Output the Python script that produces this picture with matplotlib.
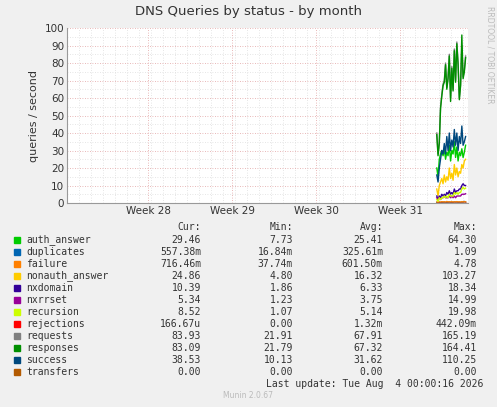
import numpy as np
import matplotlib.pyplot as plt

# days from the left edge of the graph; 24 samples at the end
days = np.linspace(30.8, 33.2, 24)

names = ["auth_answer", "duplicates", "failure", "nonauth_answer", "nxdomain", "nxrrset",
         "recursion", "rejections", "requests", "responses", "success", "transfers"]
colors = ["#00CC00", "#0066B3", "#FF8000", "#FFCC00", "#330099", "#990099",
          "#CCFF00", "#FF0000", "#808080", "#008F00", "#00487D", "#B35A00"]
series = {
    "auth_answer": [20, 15, 25, 28, 30, 27, 31, 25, 29, 27, 33, 24, 30, 28, 35, 26, 32, 24, 29, 27, 31, 26, 29, 33],
    "duplicates": [0.3, 0.2, 0.4, 0.3, 0.5, 0.4, 0.6, 0.3, 0.5, 0.4, 0.6, 0.4, 0.5, 0.3, 0.7, 0.5, 0.6, 0.4, 0.5, 0.4, 0.6, 0.5, 0.9, 0.56],
    "failure": [0.6, 0.4, 0.7, 0.5, 0.8, 0.6, 0.7, 0.5, 0.9, 0.6, 0.7, 0.6, 0.8, 0.5, 0.7, 0.6, 0.8, 0.6, 0.7, 0.5, 0.8, 0.6, 0.7, 0.7],
    "nonauth_answer": [8, 4, 10, 12, 14, 11, 16, 12, 15, 13, 20, 14, 17, 13, 22, 16, 20, 15, 18, 17, 22, 20, 24, 25],
    "nxdomain": [4, 2, 4, 3, 5, 4, 5, 4, 6, 5, 7, 5, 6, 5, 8, 6, 7, 7, 8, 8, 10, 11, 10, 10],
    "nxrrset": [3, 2, 3, 2, 3, 3, 4, 3, 3, 3, 4, 3, 4, 3, 4, 3, 4, 4, 4, 4, 5, 5, 5, 5.3],
    "recursion": [2, 1, 3, 2, 3, 3, 4, 3, 4, 3, 5, 4, 4, 4, 6, 5, 6, 5, 6, 6, 8, 9, 8, 8.5],
    "rejections": [0, 0, 0, 0, 0, 0, 0, 0, 0, 0, 0, 0, 0, 0, 0, 0, 0, 0, 0, 0, 0, 0, 0, 0],
    "requests": [40, 28, 35, 55, 62, 68, 70, 80, 66, 72, 85, 60, 78, 65, 88, 70, 92, 80, 60, 68, 90, 72, 76, 84],
    "responses": [39, 27, 34, 54, 61, 67, 69, 79, 65, 71, 84, 58, 77, 64, 87, 69, 91, 79, 59, 67, 96, 71, 75, 83],
    "success": [16, 12, 20, 25, 30, 28, 34, 28, 38, 30, 40, 30, 36, 32, 42, 33, 40, 30, 38, 34, 44, 33, 35, 38],
    "transfers": [0, 0, 0, 0, 0, 0, 0, 0, 0, 0, 0, 0, 0, 0, 0, 0, 0, 0, 0, 0, 0, 0, 0, 0],
}
cur = ["29.46", "557.38m", "716.46m", "24.86", "10.39", "5.34", "8.52", "166.67u", "83.93", "83.09", "38.53", "0.00"]
mins = ["7.73", "16.84m", "37.74m", "4.80", "1.86", "1.23", "1.07", "0.00", "21.91", "21.79", "10.13", "0.00"]
avgs = ["25.41", "325.61m", "601.50m", "16.32", "6.33", "3.75", "5.14", "1.32m", "67.91", "67.32", "31.62", "0.00"]
maxs = ["64.30", "1.09", "4.78", "103.27", "18.34", "14.99", "19.98", "442.09m", "165.19", "164.41", "110.25", "0.00"]
week_pos = [6.75, 13.75, 20.75, 27.75]
week_labels = ["Week 28", "Week 29", "Week 30", "Week 31"]

W, H = 497, 407
fig = plt.figure(figsize=(W / 100, H / 100), dpi=100, facecolor="#F0F0F0")
ax = fig.add_axes([67 / W, 1 - 203 / H, 401 / W, 175 / H], facecolor="white")
mono = "DejaVu Sans Mono"

for n, c in zip(names, colors):
    ax.plot(days, series[n], color=c, lw=1)

ax.set_xlim(0, 33.4)
ax.set_ylim(0, 100)
ax.set_yticks(range(0, 101, 10))
ax.set_yticks(range(0, 101, 5), minor=True)
ax.set_xticks(week_pos)
ax.set_xticklabels(week_labels)
ax.set_xticks(np.arange(0, 33.4, 1), minor=True)
ax.grid(True, which="minor", color="#DDDDDD", ls=(0, (1, 2)), lw=0.6)
ax.grid(True, which="major", axis="x", color="#E0A0A0", ls=(0, (1, 2)), lw=0.6)
ax.grid(True, which="major", axis="y", color="#E0A0A0", ls=(0, (1, 2)), lw=0.6)
ax.tick_params(which="both", labelsize=7.5, length=0, pad=2, colors="#333333")
for s in ["top", "right"]:
    ax.spines[s].set_visible(False)
ax.spines["left"].set_color("#999999")
ax.spines["bottom"].set_color("#999999")
ax.set_ylabel("queries / second", fontsize=8, color="#333333")

fig.text(0.5, 1 - 12 / H, "DNS Queries by status - by month", ha="center", va="center", fontsize=9.5, color="#333333")
fig.text(490 / W, 1 - 55 / H, "RRDTOOL / TOBI OETIKER", rotation=270, ha="center", va="center", fontsize=5.5, color="#BBBBBB")

fs = 7
def row(y, texts):
    xs = [201, 293, 383, 477]
    for x, t in zip(xs, texts):
        fig.text(x / W, 1 - y / H, t, ha="right", va="center", fontsize=fs, family=mono, color="#333333")

row(227, ["Cur:", "Min:", "Avg:", "Max:"])
for i, n in enumerate(names):
    y = 240 + i * 12
    fig.patches.append(plt.Rectangle((14 / W, 1 - (y + 3) / H), 6 / W, 6 / H, transform=fig.transFigure, color=colors[i]))
    fig.text(26 / W, 1 - y / H, n, ha="left", va="center", fontsize=fs, family=mono, color="#333333")
    row(y, [cur[i], mins[i], avgs[i], maxs[i]])
fig.text(483 / W, 1 - 384 / H, "Last update: Tue Aug  4 00:00:16 2026", ha="right", va="center", fontsize=fs, family=mono, color="#333333")
fig.text(248 / W, 1 - 396 / H, "Munin 2.0.67", ha="center", va="center", fontsize=5.5, color="#BBBBBB")

fig.savefig("out.png", dpi=100, facecolor=fig.get_facecolor())
